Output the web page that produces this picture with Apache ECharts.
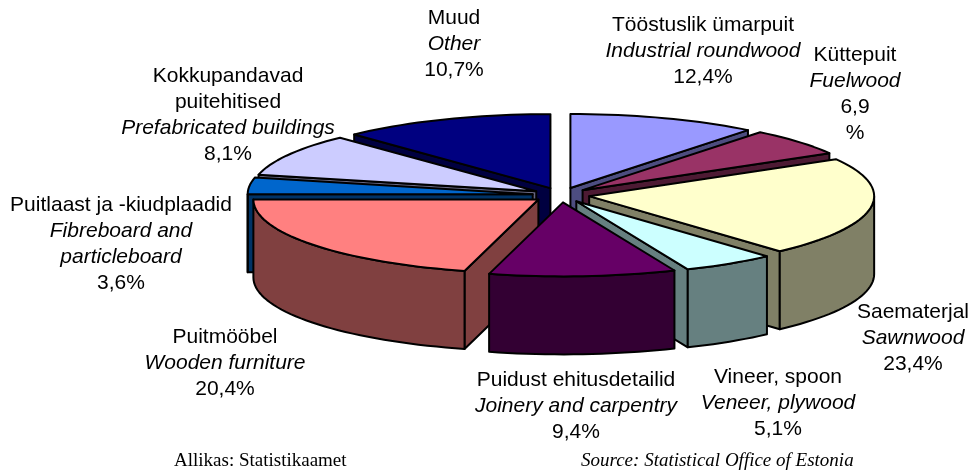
<!DOCTYPE html>
<html>
<head>
<meta charset="utf-8">
<style>
  html, body { margin: 0; padding: 0; background: #fff; }
  #main { width: 972px; height: 474px; }
</style>
<script src="https://cdn.jsdelivr.net/npm/echarts@6/dist/echarts.min.js"></script>
</head>
<body>
<div id="main"></div>
<script>
const namesEt = ['Tööstuslik ümarpuit', 'Küttepuit', 'Saematerjal', 'Vineer, spoon', 'Puidust ehitusdetailid', 'Puitmööbel', 'Puitlaast ja -kiudplaadid', 'Kokkupandavad\npuitehitised', 'Muud']
const namesEn = ['Industrial roundwood', 'Fuelwood', 'Sawnwood', 'Veneer, plywood', 'Joinery and carpentry', 'Wooden furniture', 'Fibreboard and\nparticleboard', 'Prefabricated buildings', 'Other']
const shares = [12.4, 6.9, 23.4, 5.1, 9.4, 20.4, 3.6, 8.1, 10.7]
const shareTexts = ['12,4%', '6,9\n%', '23,4%', '5,1%', '9,4%', '20,4%', '3,6%', '8,1%', '10,7%']

const topColors = ['#9999ff', '#993366', '#ffffcc', '#ccffff', '#660066', '#ff8080', '#0066cc', '#ccccff', '#000080']
const wallColors = ['#4d4d80', '#4d1a33', '#808066', '#668080', '#330033', '#804040', '#003366', '#666680', '#000040']
// label centres in page pixels, same order as namesEt
const labelPos = [[703, 51], [855, 94], [913, 338], [778, 403], [576, 406], [225, 363], [121, 244], [228, 115], [454, 44]]

// the original's projection does not keep angles, so nominal degrees go through this lens
const lens = [[0, 0], [44.6, 38.5], [69.5, 60], [153.7, 138], [172.1, 157], [205.9, 195], [279.4, 270], [292.3, 283], [321.5, 316.5], [360, 360]]
const toDrawn = (deg) => {
  for (let i = 1; i < lens.length; i++) {
    if (deg <= lens[i][0]) {
      const t = (deg - lens[i - 1][0]) / (lens[i][0] - lens[i - 1][0])
      return lens[i - 1][1] + t * (lens[i][1] - lens[i - 1][1])
    }
  }
  return 360
}

const total = shares.reduce((a, b) => a + b, 0)
let run = 0
const slices = shares.map((v, i) => {
  const a = toDrawn((run / total) * 360)
  run += v
  const b = toDrawn((run / total) * 360)
  return { i, a, b, mid: (a + b) / 2 }
})
const rad = (d) => (d * Math.PI) / 180
const backToFront = slices.slice().sort((p, q) => Math.cos(rad(q.mid)) - Math.cos(rad(p.mid)))

const EXPLODE = 0.1
const DEPTH = 1.054 // wall height, in y axis units

const renderSlice = (params, api) => {
  const s = slices[api.value(0)]
  const ox = EXPLODE * Math.sin(rad(s.mid))
  const oy = EXPLODE * Math.cos(rad(s.mid))
  const pt = (r, deg, drop) => api.coord([ox + r * Math.sin(rad(deg)), oy + r * Math.cos(rad(deg)) - (drop || 0)])
  const arc = (from, to, drop) => {
    const out = []
    const n = Math.max(2, Math.ceil((to - from) / 2))
    for (let k = 0; k <= n; k++) out.push(pt(1, from + ((to - from) * k) / n, drop))
    return out
  }
  const line = { stroke: '#000', lineWidth: 2, lineJoin: 'round' }
  const wall = { ...line, fill: wallColors[s.i] }
  const children = []
  const face = (deg) => ({
    type: 'polygon',
    shape: { points: [pt(0, 0), pt(1, deg), pt(1, deg, DEPTH), pt(0, 0, DEPTH)] },
    style: wall
  })
  if (Math.sin(rad(s.a)) < -0.001) children.push(face(s.a))
  if (Math.sin(rad(s.b)) > 0.001) children.push(face(s.b))
  const from = Math.max(s.a, 90)
  const to = Math.min(s.b, 270)
  if (to > from) {
    children.push({
      type: 'polygon',
      shape: { points: arc(from, to, 0).concat(arc(from, to, DEPTH).reverse()) },
      style: wall
    })
  }
  children.push({
    type: 'polygon',
    shape: { points: [pt(0, 0)].concat(arc(s.a, s.b, 0)) },
    style: { ...line, fill: topColors[s.i] }
  })
  return { type: 'group', children }
}

const labelGraphics = namesEt.map((name, i) => {
  const rows = name.split('\n').map((t) => `{n|${t}}`)
    .concat(namesEn[i].split('\n').map((t) => `{e|${t}}`))
    .concat(shareTexts[i].split('\n').map((t) => `{n|${t}}`))
  return {
    type: 'text',
    x: labelPos[i][0],
    y: labelPos[i][1],
    style: {
      text: rows.join('\n'),
      align: 'center',
      verticalAlign: 'middle',
      fill: '#000',
      rich: {
        n: { fontFamily: 'Liberation Sans', fontSize: 21, lineHeight: 26, fill: '#000' },
        e: { fontFamily: 'Liberation Sans', fontSize: 21, lineHeight: 26, fontStyle: 'italic', fill: '#000' }
      }
    }
  }
})

const option = {
  animation: false,
  backgroundColor: '#fff',
  grid: { left: 276, top: 121, width: 570, height: 148 },
  xAxis: { type: 'value', min: -1, max: 1, show: false },
  yAxis: { type: 'value', min: -1, max: 1, show: false },
  graphic: labelGraphics.concat([
    {
      type: 'text', x: 174, y: 461,
      style: { text: 'Allikas: Statistikaamet', verticalAlign: 'middle', fill: '#000', font: '19px "Liberation Serif"' }
    },
    {
      type: 'text', x: 581, y: 461,
      style: { text: 'Source: Statistical Office of Estonia', verticalAlign: 'middle', fill: '#000', font: 'italic 19px "Liberation Serif"' }
    }
  ]),
  series: [
    {
      type: 'custom',
      coordinateSystem: 'cartesian2d',
      clip: false,
      silent: true,
      renderItem: renderSlice,
      encode: { x: 1, y: 2 },
      data: backToFront.map((s) => [s.i, 0, 0, shares[s.i]])
    }
  ]
}

const chart = echarts.init(document.getElementById('main'), null, { renderer: 'canvas' })
chart.setOption(option)
</script>
</body>
</html>
